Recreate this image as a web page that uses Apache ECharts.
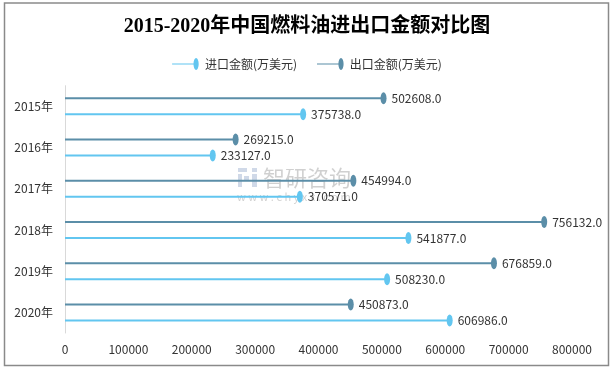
<!DOCTYPE html>
<html>
<head>
<meta charset="utf-8">
<script src="https://cdn.jsdelivr.net/npm/echarts@6/dist/echarts.min.js"></script>
<style>html,body{margin:0;padding:0;background:#fff;}#c{width:614px;height:371px;}</style>
</head>
<body>
<div id="c"></div>
<script>
const categories = ['2015年','2016年','2017年','2018年','2019年','2020年'];
const importValues = [375738.0, 233127.0, 370571.0, 541877.0, 508230.0, 606986.0];
const exportValues = [502608.0, 269215.0, 454994.0, 756132.0, 676859.0, 450873.0];
const xTicks = [0, 800000, 100000];

const importName = '进口金额(万美元)';
const exportName = '出口金额(万美元)';
const importColor = '#62c6f0';
const exportColor = '#5b8ea8';
const font = "'Noto Sans CJK SC', 'Noto Sans', sans-serif";
const legendIcon = 'path://M0,5.4H24V6.6H0Z M24,0 A2.6,6 0 1,1 23.99,0 Z';

const chart = echarts.init(document.getElementById('c'));
const labelCfg = {
  show: true, position: 'right', distance: 8,
  color: '#333', fontSize: 12, fontFamily: font,
  formatter: p => Number(p.value).toFixed(1)
};
chart.setOption({
  animation: false,
  backgroundColor: '#fff',
  title: {
    text: '2015-2020年中国燃料油进出口金额对比图',
    left: 'center', top: 12,
    textStyle: { fontFamily: "'Liberation Serif', 'Noto Sans CJK SC', serif", fontWeight: 'bold', fontSize: 20, color: '#000' }
  },
  legend: {
    top: 53, left: 'center', itemWidth: 29, itemHeight: 12, itemGap: 20,
    textStyle: { fontFamily: font, fontSize: 12, color: '#333' },
    data: [
      { name: importName, icon: legendIcon, itemStyle: { color: importColor } },
      { name: exportName, icon: legendIcon, itemStyle: { color: exportColor } }
    ]
  },
  grid: { left: 65, right: 42, top: 85.7, bottom: 38 },
  xAxis: {
    type: 'value', min: xTicks[0], max: xTicks[1], interval: xTicks[2],
    axisLine: { show: false }, axisTick: { show: false }, splitLine: { show: false },
    axisLabel: { color: '#333', fontSize: 12, fontFamily: font, margin: 10, formatter: v => String(v) }
  },
  yAxis: {
    type: 'category', data: categories, inverse: true,
    axisLine: { show: true, lineStyle: { color: '#d9d9d9', width: 1 } },
    axisTick: { show: false },
    axisLabel: { color: '#333', fontSize: 12, fontFamily: font, margin: 12 }
  },
  graphic: [
    { type: 'rect', z: 100, silent: true, shape: { x: 4.5, y: 3, width: 604, height: 362.5 }, style: { fill: 'none', stroke: '#8a8a8a', lineWidth: 1.5 } },
    { type: 'group', z: 100, silent: true, children: [
      { type: 'rect', shape: { x: 238, y: 168, width: 9, height: 4 }, style: { fill: 'rgba(150,170,205,0.45)' } },
      { type: 'rect', shape: { x: 238, y: 174, width: 4, height: 13 }, style: { fill: 'rgba(150,170,205,0.45)' } },
      { type: 'rect', shape: { x: 244, y: 176, width: 5, height: 4 }, style: { fill: 'rgba(150,170,205,0.45)' } },
      { type: 'rect', shape: { x: 252, y: 168, width: 5, height: 4 }, style: { fill: 'rgba(150,170,205,0.45)' } },
      { type: 'rect', shape: { x: 252, y: 174, width: 5, height: 13 }, style: { fill: 'rgba(150,170,205,0.45)' } },
      { type: 'text', style: { x: 263, y: 178, text: '智研咨询', fontSize: 22, fontFamily: font, fill: 'rgba(150,150,150,0.45)', verticalAlign: 'middle' } },
      { type: 'text', style: { x: 237, y: 197, text: 'w w w . c h y x x . c o m', fontSize: 11, fontFamily: font, fill: 'rgba(150,150,150,0.45)', verticalAlign: 'middle' } }
    ]}
  ],
  series: [
    { name: exportName, type: 'bar', data: exportValues, barWidth: 2, barGap: '700%', barCategoryGap: '0%',
      itemStyle: { color: exportColor }, label: labelCfg, z: 2 },
    { name: importName, type: 'bar', data: importValues, barWidth: 2, barGap: '700%',
      itemStyle: { color: importColor }, label: labelCfg, z: 2 },
    { name: exportName, type: 'pictorialBar', data: exportValues, barWidth: 2, barGap: '700%',
      symbol: 'circle', symbolSize: [6, 12], symbolPosition: 'end', symbolOffset: ['50%', 0],
      itemStyle: { color: exportColor }, z: 3 },
    { name: importName, type: 'pictorialBar', data: importValues, barWidth: 2, barGap: '700%',
      symbol: 'circle', symbolSize: [6, 12], symbolPosition: 'end', symbolOffset: ['50%', 0],
      itemStyle: { color: importColor }, z: 3 }
  ]
});
</script>
</body>
</html>
